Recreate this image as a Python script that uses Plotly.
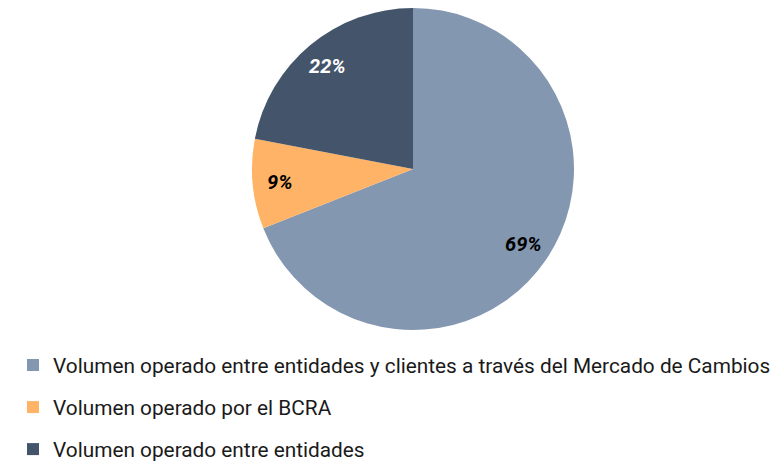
import math
import plotly.graph_objects as go

labels = [
    "Volumen operado entre entidades y clientes a través del Mercado de Cambios",
    "Volumen operado por el BCRA",
    "Volumen operado entre entidades",
]
values = [69, 9, 22]
colors = ["#8497B0", "#FFB366", "#44546A"]
text_colors = ["#000000", "#000000", "#FFFFFF"]

W, H = 780, 464
dom_x = [244 / W, 566 / W]
dom_y = [(H - 322) / H, 1.0]

fig = go.Figure()
fig.add_trace(go.Pie(
    labels=labels,
    values=values,
    sort=False,
    direction="clockwise",
    rotation=0,
    marker=dict(colors=colors, line=dict(width=0)),
    textinfo="none",
    domain=dict(x=dom_x, y=dom_y),
    showlegend=False,
    hoverinfo="label+percent",
))

# data labels placed along each slice's bisector
cx = (dom_x[0] + dom_x[1]) / 2 * W
cy = (1 - (dom_y[0] + dom_y[1]) / 2) * H
R = (dom_x[1] - dom_x[0]) * W / 2
total = sum(values)
cum = 0
for v, tc in zip(values, text_colors):
    ang = 2 * math.pi * (cum + v / 2) / total
    cum += v
    r = 0.83 * R
    px = cx + r * math.sin(ang)
    py = cy - r * math.cos(ang)
    fig.add_annotation(
        x=px / W, y=1 - py / H, xref="paper", yref="paper",
        text=f"<b><i>{round(100 * v / total)}%</i></b>", showarrow=False,
        font=dict(family="Roboto", size=20, color=tc),
        xanchor="center", yanchor="middle",
    )

for i, (lab, col) in enumerate(zip(labels, colors)):
    fig.add_trace(go.Scatter(
        x=[None], y=[None], mode="markers", name=lab,
        marker=dict(symbol="square", size=12, color=col),
        legendgroup=f"g{i}", showlegend=True, hoverinfo="skip",
    ))

fig.update_layout(
    width=W,
    height=H,
    margin=dict(l=0, r=0, t=0, b=0),
    paper_bgcolor="white",
    plot_bgcolor="white",
    font=dict(family="Roboto", size=20.8, color="#1a1a1a"),
    xaxis=dict(visible=False),
    yaxis=dict(visible=False),
    legend=dict(
        x=5 / W, y=(H - 337) / H, xanchor="left", yanchor="top",
        font=dict(family="Roboto", size=20.8, color="#1a1a1a"),
        bgcolor="rgba(0,0,0,0)",
        itemwidth=30,
        traceorder="grouped",
        tracegroupgap=12,
    ),
)

fig.write_html("out.html")
